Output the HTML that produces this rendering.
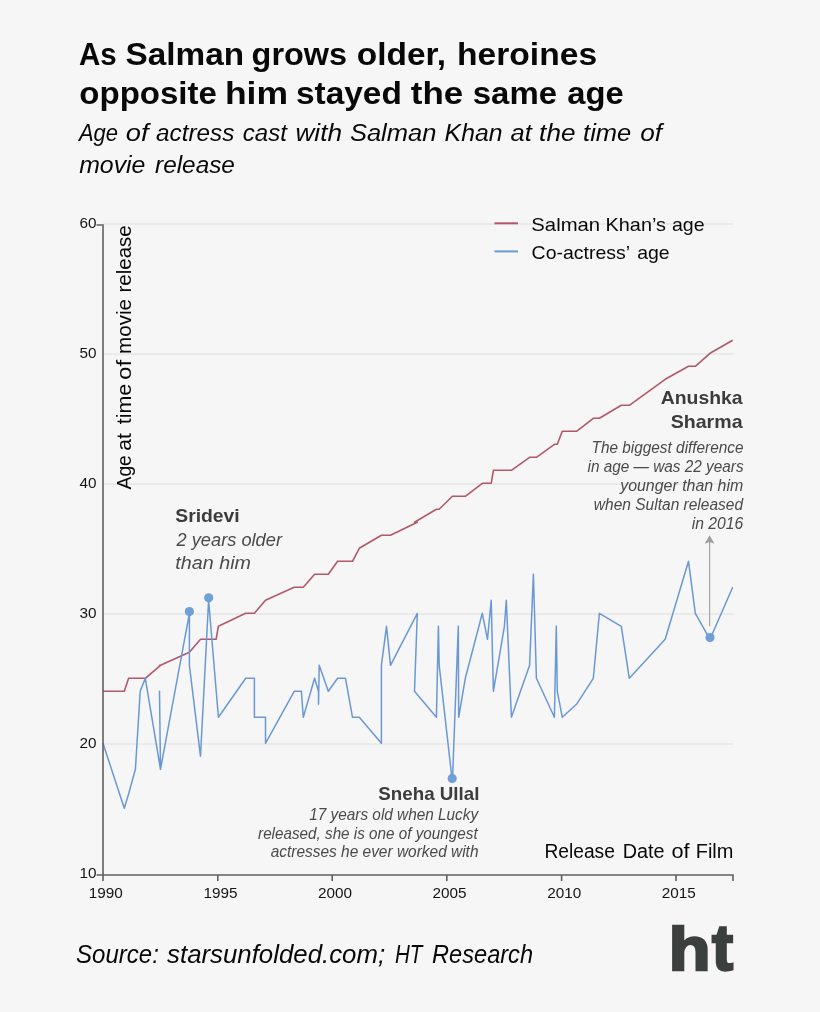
<!DOCTYPE html>
<html lang="en"><head><meta charset="utf-8"><title>As Salman grows older, heroines opposite him stayed the same age</title>
<style>
html,body{margin:0;padding:0;background:#f6f6f6;}
body{width:820px;height:1012px;overflow:hidden;font-family:"Liberation Sans",sans-serif;}
svg{display:block;font-family:"Liberation Sans",sans-serif;will-change:transform;}
.ax text{font-size:15.3px;fill:#141414;}
.grid line{stroke:#e6e6e6;stroke-width:1.5;}
.axl{stroke:#606060;stroke-width:1.6;fill:none;}
</style></head><body>
<svg width="820" height="1012" viewBox="0 0 820 1012">
<rect width="820" height="1012" fill="#f6f6f6"/>
<g class="grid"><line x1="103" x2="733" y1="744" y2="744"/><line x1="103" x2="733" y1="614" y2="614"/><line x1="103" x2="733" y1="484" y2="484"/><line x1="103" x2="733" y1="354" y2="354"/><line x1="103" x2="733" y1="224" y2="224"/></g>
<g class="ax"><text x="96.6" y="877.7" text-anchor="end">10</text><text x="96.6" y="747.7" text-anchor="end">20</text><text x="96.6" y="617.7" text-anchor="end">30</text><text x="96.6" y="487.7" text-anchor="end">40</text><text x="96.6" y="357.7" text-anchor="end">50</text><text x="96.6" y="227.7" text-anchor="end">60</text><text x="105.7" y="898.4" text-anchor="middle">1990</text><text x="220.5" y="898.4" text-anchor="middle">1995</text><text x="334.9" y="898.4" text-anchor="middle">2000</text><text x="449.5" y="898.4" text-anchor="middle">2005</text><text x="564.3" y="898.4" text-anchor="middle">2010</text><text x="678.7" y="898.4" text-anchor="middle">2015</text></g>
<text font-size="21" fill="#080808" transform="translate(131,489.9) rotate(-90)" y="0"><tspan x="0.46" textLength="34.29" lengthAdjust="spacingAndGlyphs">Age</tspan> <tspan x="39.21" textLength="17.62" lengthAdjust="spacingAndGlyphs">at</tspan> <tspan x="65.57" textLength="40.59" lengthAdjust="spacingAndGlyphs">time</tspan> <tspan x="110.02" textLength="20.05" lengthAdjust="spacingAndGlyphs">of</tspan> <tspan x="135.94" textLength="55.04" lengthAdjust="spacingAndGlyphs">movie</tspan> <tspan x="197.42" textLength="67.19" lengthAdjust="spacingAndGlyphs">release</tspan></text>
<line x1="494.5" x2="518" y1="223.3" y2="223.3" stroke="#b2586b" stroke-width="2"/>
<line x1="494.5" x2="518" y1="251.4" y2="251.4" stroke="#6a98d4" stroke-width="2"/>
<path d="M103.0,691.3 L124.3,691.3 L128.6,678.3 L135.4,678.3 L140.2,678.3 L145.3,678.3 L160.5,665.3 L159.5,665.3 L160.5,665.3 L189.4,652.3 L200.5,639.3 L208.6,639.3 L216.1,639.3 L218.4,626.3 L245.7,613.3 L254.4,613.3 L265.5,600.3 L294.2,587.3 L301.4,587.3 L303.3,587.3 L314.6,574.3 L318.5,574.3 L319.2,574.3 L328.3,574.3 L337.6,561.3 L345.5,561.3 L352.5,561.3 L359.3,548.3 L381.4,535.3 L386.5,535.3 L390.5,535.3 L417.3,522.3 L414.5,522.3 L436.4,509.3 L438.4,509.3 L439.2,509.3 L452.4,496.3 L458.3,496.3 L458.7,496.3 L465.3,496.3 L482.3,483.3 L487.5,483.3 L491.2,483.3 L493.4,470.3 L504.4,470.3 L506.3,470.3 L511.4,470.3 L529.6,457.3 L533.4,457.3 L536.4,457.3 L554.4,444.3 L556.3,444.3 L557.3,444.3 L562.3,431.3 L576.5,431.3 L593.3,418.3 L599.4,418.3 L621.3,405.3 L629.3,405.3 L665.2,379.3 L688.5,366.3 L695.3,366.3 L710.0,353.3 L732.7,340.3" fill="none" stroke="#b2586b" stroke-width="1.6" stroke-linejoin="round"/>
<path d="M103.0,743.3 L124.3,808.3 L128.6,794.0 L135.4,769.3 L140.2,691.3 L145.3,678.3 L160.5,769.3 L159.5,691.3 L160.5,769.3 L189.4,613.3 L189.4,665.3 L200.5,756.3 L208.6,600.3 L218.4,717.3 L245.7,678.3 L254.4,678.3 L254.4,717.3 L265.5,717.3 L265.5,743.3 L294.2,691.3 L301.4,691.3 L303.3,717.3 L314.6,678.3 L318.5,691.3 L318.5,704.3 L319.2,665.3 L328.3,691.3 L337.6,678.3 L345.5,678.3 L352.5,717.3 L359.3,717.3 L381.4,743.3 L381.4,665.3 L386.5,626.3 L390.5,665.3 L417.3,613.3 L414.5,691.3 L436.4,717.3 L438.4,626.3 L439.2,665.3 L452.4,782.3 L458.3,626.3 L458.7,717.3 L465.3,678.3 L482.3,613.3 L487.5,639.3 L491.2,600.3 L493.4,691.3 L504.4,626.3 L506.3,600.3 L511.4,717.3 L529.6,665.3 L533.4,574.3 L536.4,678.3 L554.4,717.3 L556.3,626.3 L557.3,691.3 L562.3,717.3 L576.5,704.3 L593.3,678.3 L599.4,613.3 L621.3,626.3 L629.3,678.3 L665.2,639.3 L688.5,561.3 L695.3,613.3 L710.0,639.3 L732.7,587.3" fill="none" stroke="#6a98d4" stroke-width="1.5" stroke-linejoin="round"/>
<path class="axl" d="M96.5,225 H103 V875 H96.5"/>
<path class="axl" d="M103,881 V875 H733 V881"/>
<g class="axl"><line x1="217.8" x2="217.8" y1="875" y2="881"/><line x1="332.2" x2="332.2" y1="875" y2="881"/><line x1="446.8" x2="446.8" y1="875" y2="881"/><line x1="561.6" x2="561.6" y1="875" y2="881"/><line x1="676.0" x2="676.0" y1="875" y2="881"/></g>
<g fill="#6f9ed9"><circle cx="189.4" cy="611.6" r="4.6"/><circle cx="208.7" cy="597.8" r="4.6"/><circle cx="452.2" cy="778.4" r="4.6"/><circle cx="710" cy="637.6" r="4.6"/></g>
<line x1="709.6" x2="709.6" y1="540" y2="626.3" stroke="#a6a6a6" stroke-width="1.2"/>
<path d="M709.6,535.3 L714.5,543.7 L709.6,541.9 L704.7,543.7 Z" fill="#9e9e9e"/>
<text y="522.4" font-size="19" fill="#3c3c3c" font-weight="bold"><tspan x="175.25" textLength="64.49" lengthAdjust="spacingAndGlyphs">Sridevi</tspan></text>
<text y="545.7" font-size="19.2" fill="#4a4a4a" font-style="italic"><tspan x="176.52" textLength="105.45" lengthAdjust="spacingAndGlyphs">2 years older</tspan></text>
<text y="568.5" font-size="19.2" fill="#4a4a4a" font-style="italic"><tspan x="175.28" textLength="75.69" lengthAdjust="spacingAndGlyphs">than him</tspan></text>
<text y="799.7" font-size="19" fill="#3c3c3c" font-weight="bold"><tspan x="378.36" textLength="101.07" lengthAdjust="spacingAndGlyphs">Sneha Ullal</tspan></text>
<text y="819.9" font-size="16.2" fill="#4a4a4a" font-style="italic"><tspan x="309.25" textLength="168.87" lengthAdjust="spacingAndGlyphs">17 years old when Lucky</tspan></text>
<text y="838.6" font-size="16.2" fill="#4a4a4a" font-style="italic"><tspan x="258.05" textLength="219.57" lengthAdjust="spacingAndGlyphs">released, she is one of youngest</tspan></text>
<text y="857.3" font-size="16.2" fill="#4a4a4a" font-style="italic"><tspan x="270.64" textLength="207.89" lengthAdjust="spacingAndGlyphs">actresses he ever worked with</tspan></text>
<text y="404.4" font-size="18.6" fill="#3c3c3c" font-weight="bold"><tspan x="660.81" textLength="81.80" lengthAdjust="spacingAndGlyphs">Anushka</tspan></text>
<text y="427.5" font-size="18.6" fill="#3c3c3c" font-weight="bold"><tspan x="670.74" textLength="71.79" lengthAdjust="spacingAndGlyphs">Sharma</tspan></text>
<text y="452.6" font-size="16" fill="#4a4a4a" font-style="italic"><tspan x="591.56" textLength="152.01" lengthAdjust="spacingAndGlyphs">The biggest difference</tspan></text>
<text y="471.7" font-size="16" fill="#4a4a4a" font-style="italic"><tspan x="587.50" textLength="156.05" lengthAdjust="spacingAndGlyphs">in age — was 22 years</tspan></text>
<text y="490.6" font-size="16" fill="#4a4a4a" font-style="italic"><tspan x="620.18" textLength="123.06" lengthAdjust="spacingAndGlyphs">younger than him</tspan></text>
<text y="509.5" font-size="16" fill="#4a4a4a" font-style="italic"><tspan x="593.85" textLength="149.27" lengthAdjust="spacingAndGlyphs">when Sultan released</tspan></text>
<text y="528.6" font-size="16" fill="#4a4a4a" font-style="italic"><tspan x="691.77" textLength="51.53" lengthAdjust="spacingAndGlyphs">in 2016</tspan></text>
<text y="64.8" font-size="31.5" fill="#080808" font-weight="bold"><tspan x="78.89" textLength="37.69" lengthAdjust="spacingAndGlyphs">As</tspan> <tspan x="125.53" textLength="118.50" lengthAdjust="spacingAndGlyphs">Salman</tspan> <tspan x="251.61" textLength="95.51" lengthAdjust="spacingAndGlyphs">grows</tspan> <tspan x="356.74" textLength="89.24" lengthAdjust="spacingAndGlyphs">older,</tspan> <tspan x="457.07" textLength="140.05" lengthAdjust="spacingAndGlyphs">heroines</tspan></text>
<text y="104.0" font-size="31.5" fill="#080808" font-weight="bold"><tspan x="79.27" textLength="137.67" lengthAdjust="spacingAndGlyphs">opposite</tspan> <tspan x="224.96" textLength="63.05" lengthAdjust="spacingAndGlyphs">him</tspan> <tspan x="295.94" textLength="105.85" lengthAdjust="spacingAndGlyphs">stayed</tspan> <tspan x="410.87" textLength="52.42" lengthAdjust="spacingAndGlyphs">the</tspan> <tspan x="472.81" textLength="84.16" lengthAdjust="spacingAndGlyphs">same</tspan> <tspan x="567.36" textLength="56.43" lengthAdjust="spacingAndGlyphs">age</tspan></text>
<text y="141.2" font-size="24.5" fill="#080808" font-style="italic"><tspan x="78.88" textLength="39.03" lengthAdjust="spacingAndGlyphs">Age</tspan> <tspan x="125.75" textLength="22.81" lengthAdjust="spacingAndGlyphs">of</tspan> <tspan x="156.05" textLength="78.30" lengthAdjust="spacingAndGlyphs">actress</tspan> <tspan x="242.80" textLength="44.15" lengthAdjust="spacingAndGlyphs">cast</tspan> <tspan x="295.41" textLength="46.65" lengthAdjust="spacingAndGlyphs">with</tspan> <tspan x="349.92" textLength="86.54" lengthAdjust="spacingAndGlyphs">Salman</tspan> <tspan x="444.64" textLength="57.79" lengthAdjust="spacingAndGlyphs">Khan</tspan> <tspan x="510.60" textLength="21.23" lengthAdjust="spacingAndGlyphs">at</tspan> <tspan x="539.12" textLength="36.37" lengthAdjust="spacingAndGlyphs">the</tspan> <tspan x="583.07" textLength="48.25" lengthAdjust="spacingAndGlyphs">time</tspan> <tspan x="640.26" textLength="21.82" lengthAdjust="spacingAndGlyphs">of</tspan></text>
<text y="173.2" font-size="24.5" fill="#080808" font-style="italic"><tspan x="79.15" textLength="66.30" lengthAdjust="spacingAndGlyphs">movie</tspan> <tspan x="155.03" textLength="79.89" lengthAdjust="spacingAndGlyphs">release</tspan></text>
<text y="962.6" font-size="25.5" fill="#080808" font-style="italic"><tspan x="76.11" textLength="82.75" lengthAdjust="spacingAndGlyphs">Source:</tspan> <tspan x="167.12" textLength="217.95" lengthAdjust="spacingAndGlyphs">starsunfolded.com;</tspan> <tspan x="394.90" textLength="27.47" lengthAdjust="spacingAndGlyphs">HT</tspan> <tspan x="432.09" textLength="100.95" lengthAdjust="spacingAndGlyphs">Research</tspan></text>
<text y="857.6" font-size="20" fill="#080808"><tspan x="544.48" textLength="70.42" lengthAdjust="spacingAndGlyphs">Release</tspan> <tspan x="622.76" textLength="41.84" lengthAdjust="spacingAndGlyphs">Date</tspan> <tspan x="671.46" textLength="18.13" lengthAdjust="spacingAndGlyphs">of</tspan> <tspan x="695.69" textLength="37.71" lengthAdjust="spacingAndGlyphs">Film</tspan></text>
<text y="230.6" font-size="19" fill="#080808"><tspan x="531.33" textLength="68.79" lengthAdjust="spacingAndGlyphs">Salman</tspan> <tspan x="605.58" textLength="60.37" lengthAdjust="spacingAndGlyphs">Khan’s</tspan> <tspan x="671.91" textLength="32.63" lengthAdjust="spacingAndGlyphs">age</tspan></text>
<text y="258.7" font-size="19" fill="#080808"><tspan x="531.59" textLength="97.75" lengthAdjust="spacingAndGlyphs">Co-actress’</tspan> <tspan x="637.19" textLength="32.44" lengthAdjust="spacingAndGlyphs">age</tspan></text>
<text y="969.8" font-weight="bold" font-size="61" fill="#3b3f3e" stroke="#3b3f3e" stroke-width="2.5"><tspan x="668.8527218045115" textLength="41.75259535966745" lengthAdjust="spacingAndGlyphs">h</tspan><tspan x="712.0395812053114" font-size="64" textLength="21.064860968025755" lengthAdjust="spacingAndGlyphs">t</tspan></text>
</svg>
</body></html>
